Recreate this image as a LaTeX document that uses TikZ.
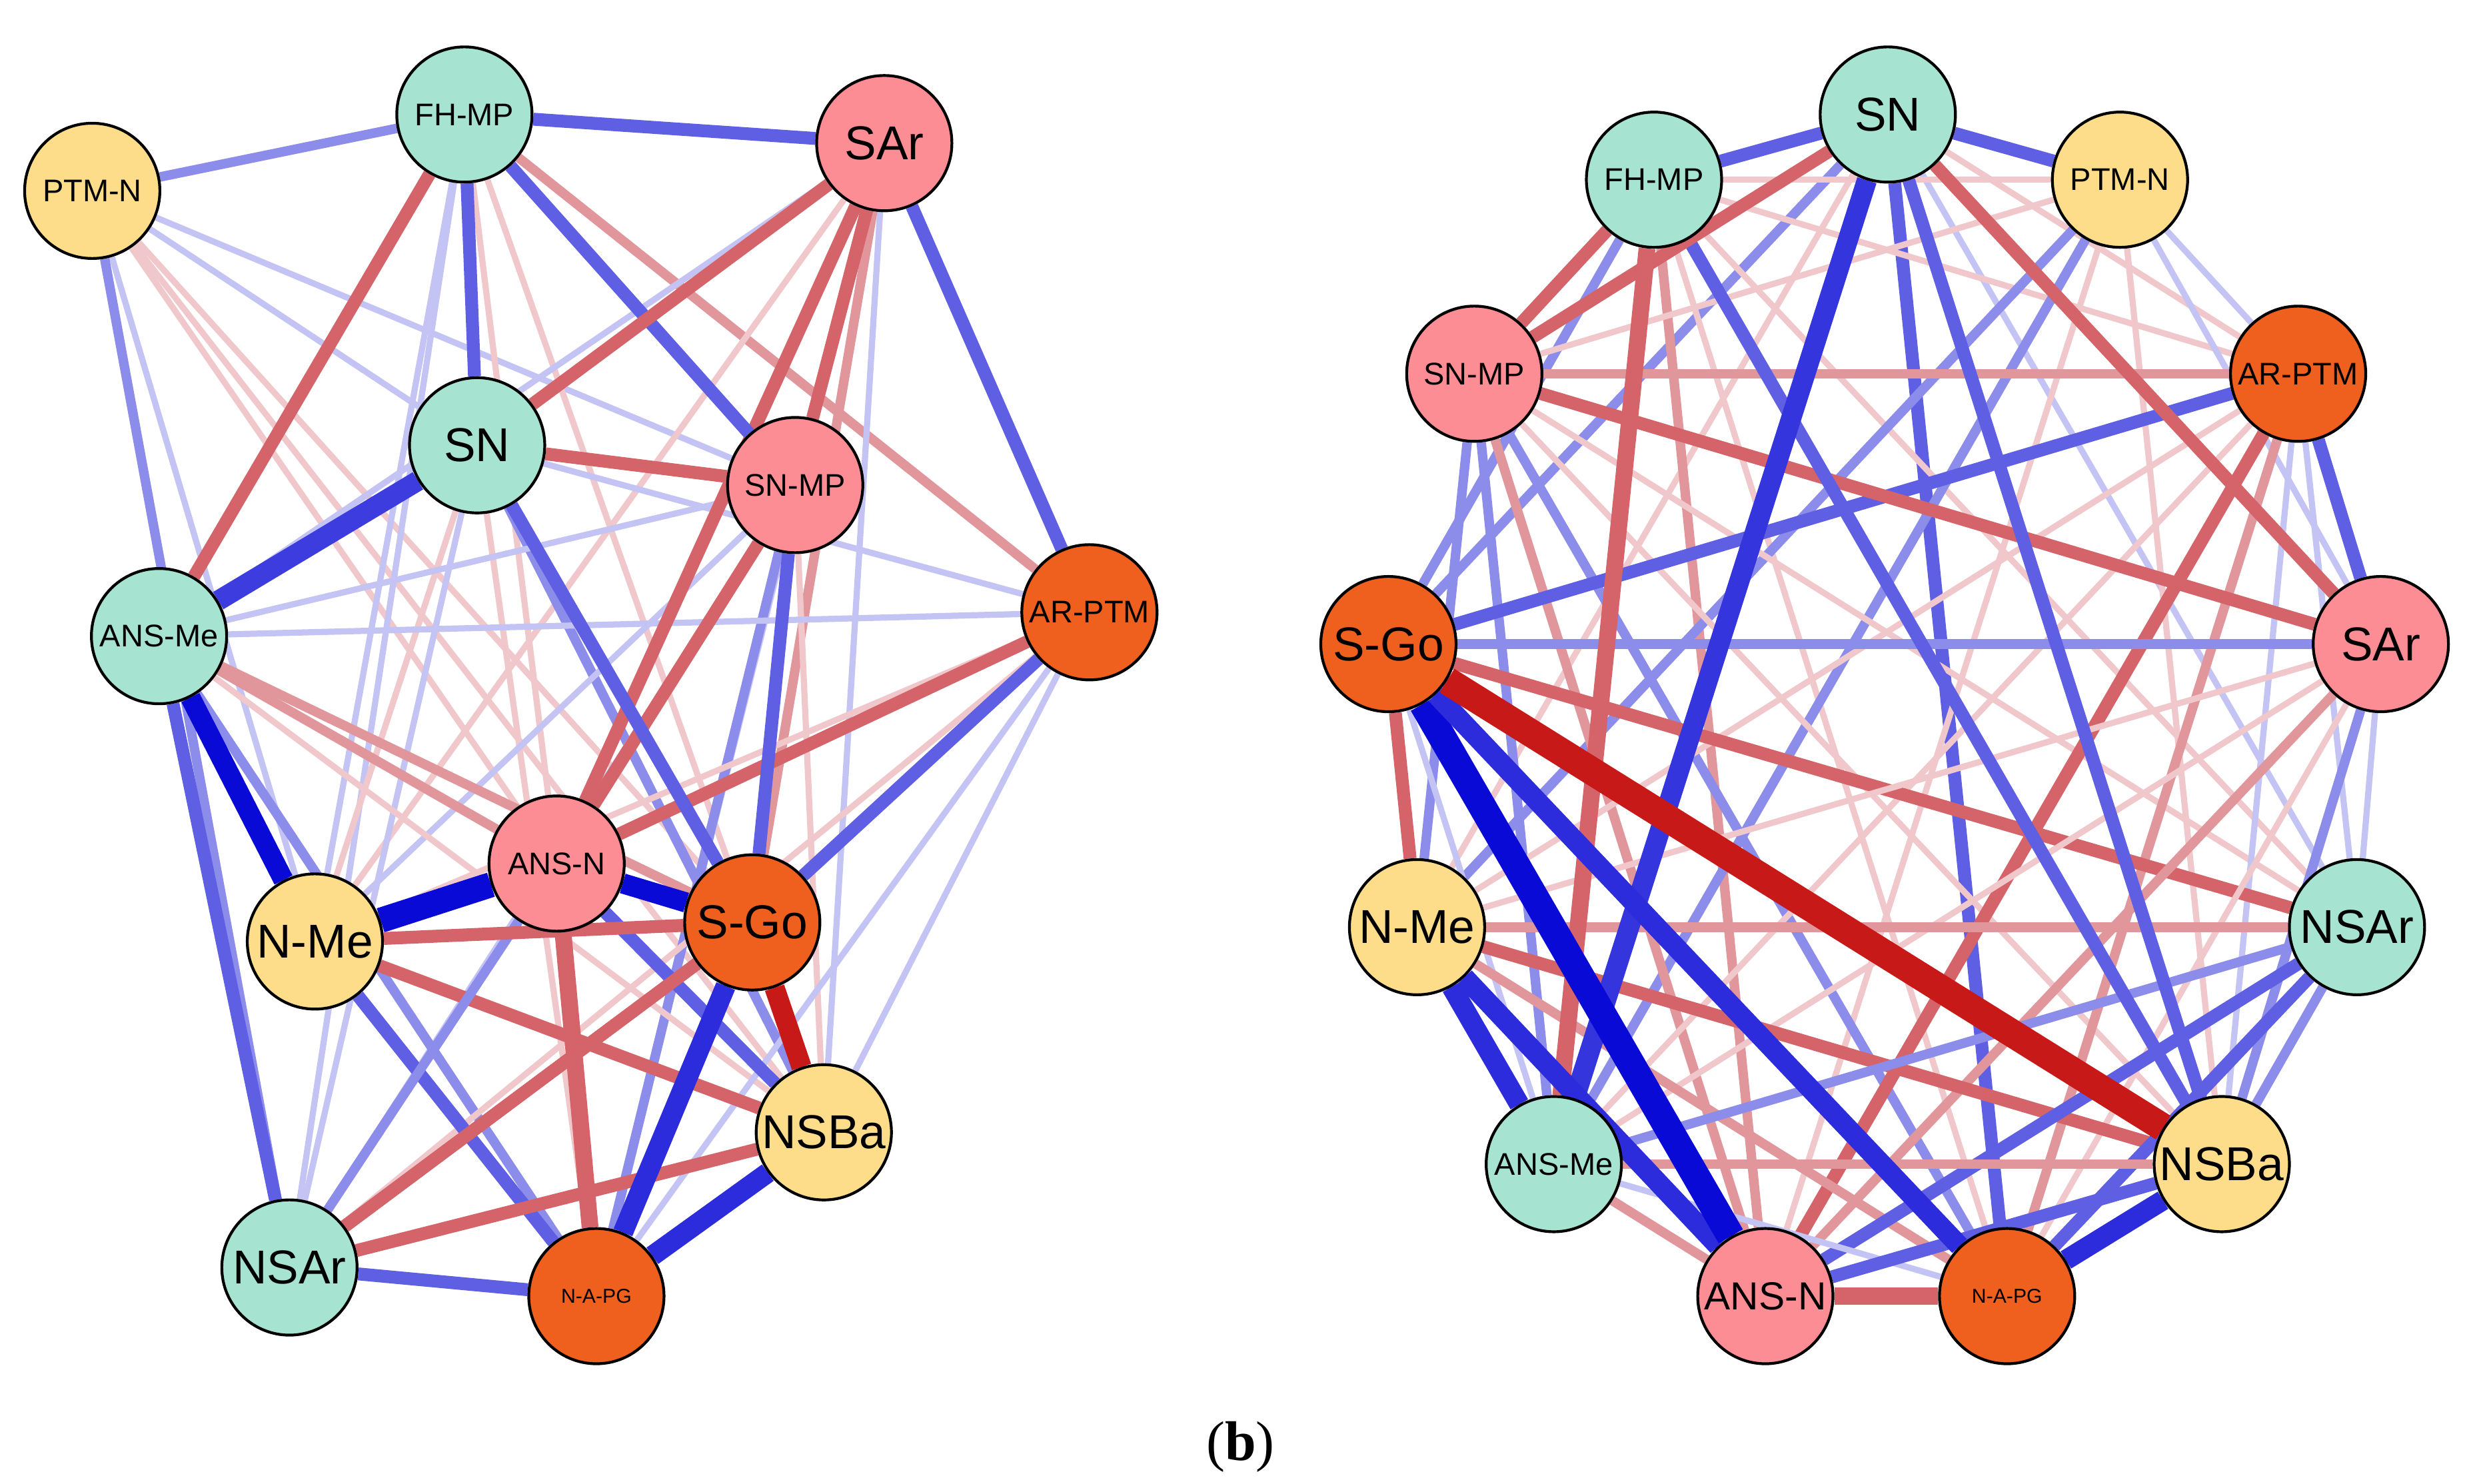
\documentclass[tikz,border=0pt]{standalone}
\usepackage{fontspec}
\setmainfont{Liberation Sans}
\newfontfamily\capfont{Liberation Serif}
\usetikzlibrary{backgrounds}
\definecolor{cg}{HTML}{A6E3D0}
\definecolor{cy}{HTML}{FDDC8A}
\definecolor{cp}{HTML}{FC8D94}
\definecolor{co}{HTML}{EF5F1E}
\definecolor{B4}{RGB}{10,10,215}
\definecolor{B3}{RGB}{95,95,228}
\definecolor{B2}{RGB}{140,140,234}
\definecolor{B1}{RGB}{195,195,244}
\definecolor{R4}{RGB}{200,25,25}
\definecolor{R3}{RGB}{212,100,105}
\definecolor{R2}{RGB}{225,150,155}
\definecolor{R1}{RGB}{240,200,203}
\tikzset{
 nd/.style={circle,draw=black,line width=0.5pt,minimum size=0.85cm,inner sep=0pt},
 big/.style={font=\fontsize{8.5}{9}\selectfont},
 mid/.style={font=\fontsize{7}{8}\selectfont},
 sm/.style={font=\fontsize{5.6}{6}\selectfont},
 tiny/.style={font=\fontsize{3.6}{4}\selectfont},
 b4/.style={B4,line width=3.6pt}, b3/.style={B3,line width=2.3pt},
 b2/.style={B2,line width=1.7pt}, b1/.style={B1,line width=1.1pt},
 r4/.style={R4,line width=3.6pt}, r3/.style={R3,line width=2.3pt},
 r2/.style={R2,line width=1.7pt}, r1/.style={R1,line width=1.1pt},
}
\begin{document}
\begin{tikzpicture}[x=0.01cm,y=-0.01cm]
\useasboundingbox (0,0) rectangle (1560,933);
% left
\node[nd,sm,fill=cy] (LPTMN) at (58,120) {PTM-N};
\node[nd,sm,fill=cg] (LFHMP) at (292,72) {FH-MP};
\node[nd,big,fill=cp] (LSAr) at (556,90) {SAr};
\node[nd,big,fill=cg] (LSN) at (300,280) {SN};
\node[nd,sm,fill=cp] (LSNMP) at (500,305) {SN-MP};
\node[nd,sm,fill=cg] (LANSMe) at (100,400) {ANS-Me};
\node[nd,sm,fill=co] (LARPTM) at (685,385) {AR-PTM};
\node[nd,sm,fill=cp] (LANSN) at (350,543) {ANS-N};
\node[nd,big,fill=co] (LSGo) at (473,580) {S-Go};
\node[nd,big,fill=cy] (LNMe) at (198,592) {N-Me};
\node[nd,big,fill=cy] (LNSBa) at (518,712) {NSBa};
\node[nd,big,fill=cg] (LNSAr) at (182,797) {NSAr};
\node[nd,tiny,fill=co] (LNAPG) at (375,815) {N-A-PG};
% right
\node[nd,big,fill=cg] (RSN) at (1187,72) {SN};
\node[nd,sm,fill=cg] (RFHMP) at (1040,113) {FH-MP};
\node[nd,sm,fill=cy] (RPTMN) at (1333,113) {PTM-N};
\node[nd,sm,fill=cp] (RSNMP) at (927,235) {SN-MP};
\node[nd,sm,fill=co] (RARPTM) at (1445,235) {AR-PTM};
\node[nd,big,fill=co] (RSGo) at (873,405) {S-Go};
\node[nd,big,fill=cp] (RSAr) at (1497,405) {SAr};
\node[nd,big,fill=cy] (RNMe) at (891,583) {N-Me};
\node[nd,big,fill=cg] (RNSAr) at (1482,583) {NSAr};
\node[nd,sm,fill=cg] (RANSMe) at (977,732) {ANS-Me};
\node[nd,big,fill=cy] (RNSBa) at (1397,732) {NSBa};
\node[nd,mid,fill=cp] (RANSN) at (1110,815) {ANS-N};
\node[nd,tiny,fill=co] (RNAPG) at (1262,815) {N-A-PG};
\node[font=\capfont\fontsize{10}{11}\selectfont] (cap) at (780,910) {(\textbf{b})};
\begin{pgfonlayer}{background}
\foreach \a/\b/\s in {PTMN/SN/b1,PTMN/SNMP/b1,PTMN/ANSN/r1,PTMN/SGo/r1,PTMN/NSBa/r1,PTMN/NMe/b1,
 FHMP/NSBa/r1,FHMP/ANSN/r1,FHMP/ARPTM/r2,FHMP/NSAr/b1,FHMP/NMe/b1,
 SAr/ANSMe/b1,SAr/NSBa/b1,SAr/NAPG/b1,SAr/SGo/r2,SAr/NMe/r1,
 SN/NSAr/b1,SN/NAPG/r1,SN/ARPTM/b1,SN/NMe/r1,SN/NSBa/b2,
 SNMP/ANSMe/b1,SNMP/NSAr/b1,SNMP/NMe/b1,SNMP/NSBa/r1,SNMP/NAPG/b2,
 ANSMe/ARPTM/b1,ANSMe/NSBa/r1,ANSMe/SGo/r2,ANSMe/NAPG/b2,
 ARPTM/NSBa/b1,ARPTM/NMe/r1,ARPTM/NAPG/b1,ARPTM/NSAr/r1,
 NMe/NSBa/r3,NMe/NAPG/b3,NSAr/NSBa/r3,NSAr/SGo/r3,NSAr/ANSN/b2,
 ANSMe/ANSN/r2,SAr/ANSN/r3,SNMP/ANSN/r3,ARPTM/ANSN/r3,ARPTM/SGo/b3,ANSN/NSBa/b3,
 SNMP/SGo/b3,SN/SGo/b3}
 {\draw[\s] (L\a) -- (L\b);}
\draw[b3] (LFHMP) -- (LSAr);
\draw[b2] (LPTMN) -- (LFHMP);
\draw[b2] (LPTMN) -- (LNSAr);
\draw[b3] (LANSMe) -- (LNSAr);
\draw[b3] (LNSAr) -- (LNAPG);
\draw[b3] (LFHMP) -- (LSN);
\draw[b3] (LFHMP) -- (LSNMP);
\draw[b3] (LSAr) -- (LARPTM);
\draw[r3] (LSAr) -- (LSNMP);
\draw[r3] (LSAr) -- (LSN);
\draw[r3] (LSN) -- (LSNMP);
\draw[r3] (LFHMP) -- (LANSMe);
\draw[b4,B3!60!B4] (LSN) -- (LANSMe);
\draw[b4] (LANSMe) -- (LNMe);
\draw[b4,line width=4.5pt] (LNMe) -- (LANSN);
\draw[r3] (LNMe) -- (LSGo);
\draw[b4] (LANSN) -- (LSGo);
\draw[r4] (LSGo) -- (LNSBa);
\draw[r3,line width=3pt] (LANSN) -- (LNAPG);
\draw[b4,B3!40!B4] (LSGo) -- (LNAPG);
\draw[b4,B3!40!B4] (LNSBa) -- (LNAPG);
\draw[r3] (LNSAr) -- (LSGo);
\foreach \a/\b/\s in {SN/SNMP/b2,SN/ARPTM/r1,SN/NSAr/b1,SN/NMe/r1,SN/NAPG/b3,SN/SGo/b2,
 FHMP/PTMN/r1,FHMP/ARPTM/r1,FHMP/SGo/b2,FHMP/NSAr/r1,FHMP/ANSN/r2,FHMP/NAPG/r1,
 PTMN/SNMP/r1,PTMN/ARPTM/b1,PTMN/SAr/b1,PTMN/NMe/b2,PTMN/ANSMe/b2,PTMN/NSBa/r1,PTMN/ANSN/r1,
 SNMP/ARPTM/r2,SNMP/NMe/b2,SNMP/ANSMe/b2,SNMP/NSAr/r1,SNMP/ANSN/r2,SNMP/NAPG/b2,SNMP/NSBa/r1,
 ARPTM/SAr/b3,ARPTM/NSAr/b1,ARPTM/NMe/r1,ARPTM/ANSMe/r1,ARPTM/NSBa/b1,ARPTM/ANSN/r3,ARPTM/NAPG/r2,
 SGo/SAr/b2,SGo/NSAr/r3,SGo/ANSMe/b1,SGo/NMe/r3,
 SAr/NMe/r1,SAr/ANSMe/r1,SAr/ANSN/r2,SAr/NAPG/r1,SAr/NSBa/b2,SAr/NSAr/b1,
 NMe/NSAr/r2,NMe/NSBa/r3,NMe/NAPG/r2,
 NSAr/ANSMe/b2,NSAr/ANSN/b3,NSAr/NAPG/b3,NSAr/NSBa/b2,
 ANSMe/NSBa/r2,ANSMe/ANSN/r2,ANSMe/NAPG/b1,NSBa/ANSN/b3,SGo/ARPTM/b3,SNMP/SAr/r3,SN/SAr/r3,
 FHMP/NSBa/b3,SN/NSBa/b3}
 {\draw[\s] (R\a) -- (R\b);}
\draw[b3] (RSN) -- (RFHMP);
\draw[b3] (RSN) -- (RPTMN);
\draw[r3] (RSN) -- (RSNMP);
\draw[r3] (RFHMP) -- (RSNMP);
\draw[r3,line width=3pt] (RFHMP) -- (RANSMe);
\draw[b4,B3!50!B4,line width=3.6pt] (RSN) -- (RANSMe);
\draw[b4,B3!40!B4] (RNMe) -- (RANSMe);
\draw[b4,B3!40!B4] (RNMe) -- (RANSN);
\draw[b4,line width=5pt] (RSGo) -- (RANSN);
\draw[b4,B3!40!B4] (RSGo) -- (RNAPG);
\draw[R4,line width=5pt] (RSGo) -- (RNSBa);
\draw[r3,line width=3pt] (RANSN) -- (RNAPG);
\draw[b4,B3!40!B4] (RNAPG) -- (RNSBa);
\end{pgfonlayer}
\end{tikzpicture}
\end{document}
